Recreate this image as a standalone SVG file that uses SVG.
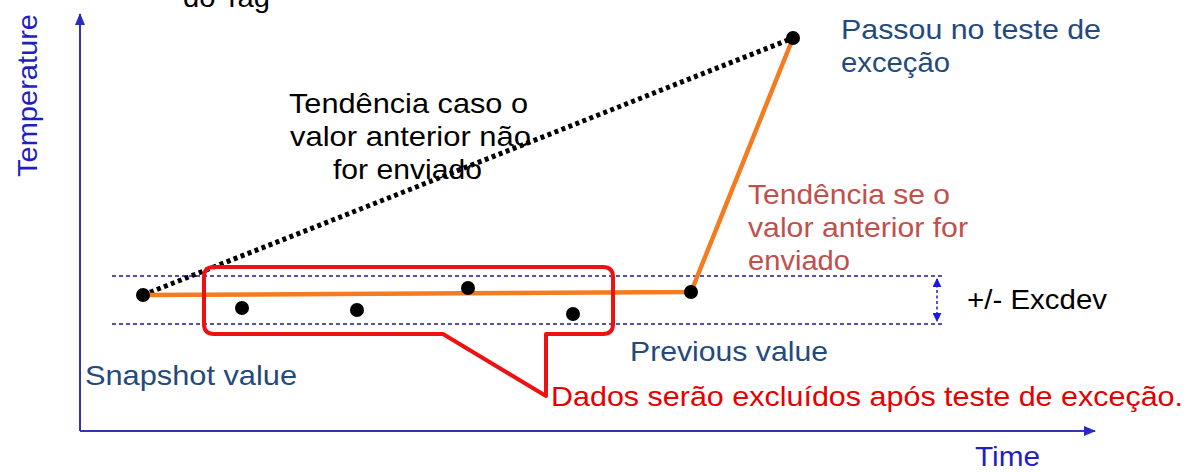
<svg xmlns="http://www.w3.org/2000/svg" width="1191" height="472" viewBox="0 0 1191 472">
<defs>
<style>
text{font-family:"Liberation Sans",Arial,sans-serif;font-size:28px}
.blk{fill:#000}
.axl{fill:#1F1FC0}
.dblue{fill:#244A7C}
.brown{fill:#C0504D}
.red{fill:#E60000}
.axis{stroke:#3434B0;stroke-width:2;fill:none}
.band{stroke:#1A1A99;stroke-width:1.3;stroke-dasharray:4 3;fill:none}
.orange{stroke:#F47B20;stroke-width:4.5;fill:none;stroke-linecap:round;stroke-linejoin:round}
.dotted{stroke:#000;stroke-width:5;stroke-dasharray:4 3.5;fill:none}
.pt{fill:#000}
</style>
<marker id="ah" viewBox="0 0 12 10" refX="11" refY="5" markerWidth="12" markerHeight="10" markerUnits="userSpaceOnUse" orient="auto">
<path d="M0,0 L12,5 L0,10 Z" fill="#2A2AC0"/>
</marker>
<marker id="sa" viewBox="0 0 10 10" refX="9" refY="5" markerWidth="9" markerHeight="9" markerUnits="userSpaceOnUse" orient="auto-start-reverse">
<path d="M0,0 L10,5 L0,10 Z" fill="#1A1AE0"/>
</marker>
</defs>
<rect width="1191" height="472" fill="#fff"/>

<g id="axes">
<line class="axis" x1="80" y1="431" x2="80" y2="14" marker-end="url(#ah)"/>
<line class="axis" x1="80" y1="431" x2="1095" y2="431" marker-end="url(#ah)"/>
<text class="axl" transform="translate(37,177) rotate(-90)" textLength="163" lengthAdjust="spacingAndGlyphs">Temperature</text>
<text class="axl" x="975" y="466" textLength="65" lengthAdjust="spacingAndGlyphs">Time</text>
</g>

<g id="band">
<line class="band" x1="112" y1="276" x2="943" y2="276"/>
<line class="band" x1="112" y1="324" x2="943" y2="324"/>
<line x1="937" y1="279" x2="937" y2="321" stroke="#1A1AE0" stroke-width="1.5" stroke-dasharray="3 2.5" marker-start="url(#sa)" marker-end="url(#sa)"/>
</g>

<g id="connectors">
<line class="dotted" x1="143" y1="295" x2="793" y2="38"/>
<polyline class="orange" points="143,295 691,292 793,38"/>
</g>

<g id="callout">
<path d="M214 267 H603 Q613 267 613 277 V324 Q613 334 603 334 H546 V396 L443 334 H214 Q204 334 204 324 V277 Q204 267 214 267 Z" fill="none" stroke="#EE1111" stroke-width="4" stroke-linejoin="round"/>
</g>

<g id="points">
<circle class="pt" cx="143" cy="295" r="7"/>
<circle class="pt" cx="242" cy="308" r="7"/>
<circle class="pt" cx="357" cy="310" r="7"/>
<circle class="pt" cx="468" cy="288" r="7"/>
<circle class="pt" cx="573" cy="314" r="7"/>
<circle class="pt" cx="691" cy="292" r="7"/>
<circle class="pt" cx="793" cy="38" r="7"/>
</g>

<g id="label-tag">
<text class="blk" x="183" y="7" textLength="87" lengthAdjust="spacingAndGlyphs">do Tag</text>
</g>

<g id="label-nosend">
<text class="blk" x="289" y="113" textLength="239" lengthAdjust="spacingAndGlyphs">Tendência caso o</text>
<text class="blk" x="290" y="146" textLength="241" lengthAdjust="spacingAndGlyphs">valor anterior não</text>
<text class="blk" x="333" y="179" textLength="149" lengthAdjust="spacingAndGlyphs">for enviado</text>
</g>

<g id="label-passou">
<text class="dblue" x="841" y="39" textLength="260" lengthAdjust="spacingAndGlyphs">Passou no teste de</text>
<text class="dblue" x="841" y="72" textLength="109" lengthAdjust="spacingAndGlyphs">exceção</text>
</g>

<g id="label-send">
<text class="brown" x="748" y="204" textLength="202" lengthAdjust="spacingAndGlyphs">Tendência se o</text>
<text class="brown" x="748" y="237" textLength="220" lengthAdjust="spacingAndGlyphs">valor anterior for</text>
<text class="brown" x="748" y="270" textLength="102" lengthAdjust="spacingAndGlyphs">enviado</text>
</g>

<g id="label-excdev">
<text class="blk" x="967" y="309" textLength="140" lengthAdjust="spacingAndGlyphs">+/- Excdev</text>
</g>

<g id="label-previous">
<text class="dblue" x="630" y="361" textLength="198" lengthAdjust="spacingAndGlyphs">Previous value</text>
</g>

<g id="label-snapshot">
<text class="dblue" x="85" y="385" textLength="212" lengthAdjust="spacingAndGlyphs">Snapshot value</text>
</g>

<g id="label-excluded">
<text class="red" x="551" y="406" textLength="632" lengthAdjust="spacingAndGlyphs">Dados serão excluídos após teste de exceção.</text>
</g>
</svg>
